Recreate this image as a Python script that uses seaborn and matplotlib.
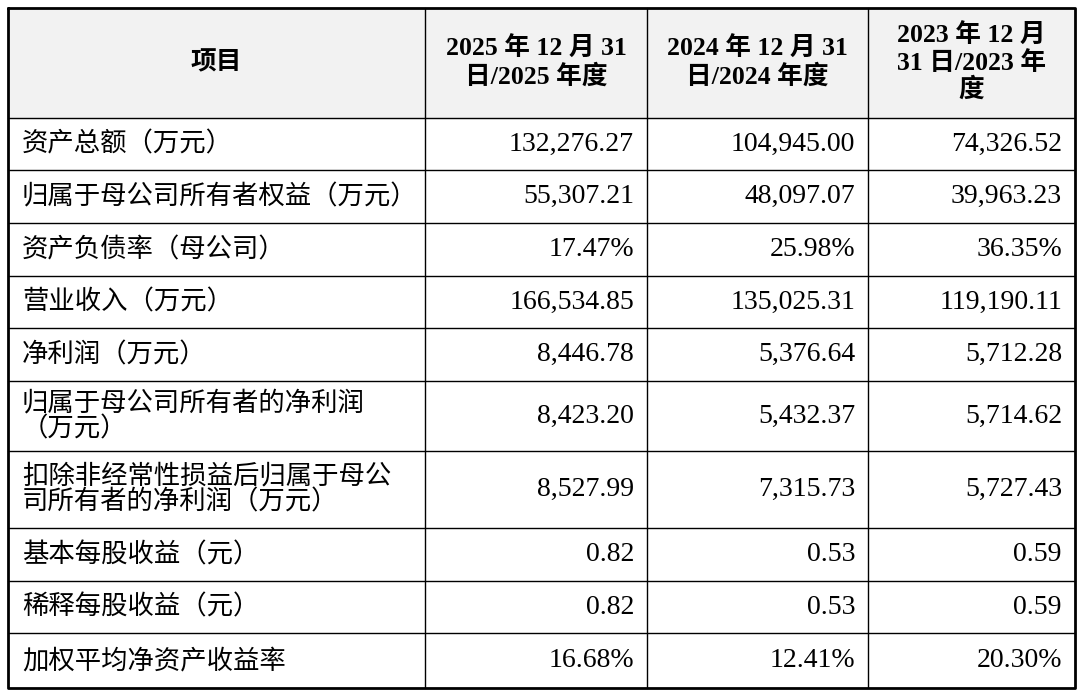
import matplotlib.pyplot as plt
import seaborn as sns

# table content
header = ["项目", "2025 年 12 月 31\n日/2025 年度", "2024 年 12 月 31\n日/2024 年度", "2023 年 12 月\n31 日/2023 年\n度"]
items = [
    "资产总额（万元）",
    "归属于母公司所有者权益（万元）",
    "资产负债率（母公司）",
    "营业收入（万元）",
    "净利润（万元）",
    "归属于母公司所有者的净利润\n（万元）",
    "扣除非经常性损益后归属于母公\n司所有者的净利润（万元）",
    "基本每股收益（元）",
    "稀释每股收益（元）",
    "加权平均净资产收益率",
]
v2025 = ["132,276.27", "55,307.21", "17.47%", "166,534.85", "8,446.78",
         "8,423.20", "8,527.99", "0.82", "0.82", "16.68%"]
v2024 = ["104,945.00", "48,097.07", "25.98%", "135,025.31", "5,376.64",
         "5,432.37", "7,315.73", "0.53", "0.53", "12.41%"]
v2023 = ["74,326.52", "39,963.23", "36.35%", "119,190.11", "5,712.28",
         "5,714.62", "5,727.43", "0.59", "0.59", "20.30%"]

# grid in pixels
col_edges = [8, 425, 647, 868, 1075]
row_edges = [8, 118, 170, 223, 276, 328, 381, 451, 528, 581, 633, 688]

sns.set_theme(style="white")
fonts = ["Liberation Serif", "Noto Sans CJK SC", "DejaVu Sans"]
plt.rcParams["font.family"] = fonts

fig = plt.figure(figsize=(10.8, 6.98), dpi=100)
ax = fig.add_axes([0, 0, 1, 1])
ax.set_xlim(0, 1080)
ax.set_ylim(698, 0)
ax.axis("off")

# header background
ax.fill_between([col_edges[0], col_edges[-1]], row_edges[0], row_edges[1], color="#f2f2f2", zorder=0)

for y in row_edges[1:-1]:
    ax.plot([col_edges[0], col_edges[-1]], [y, y], color="black", lw=1.0)
for x in col_edges[1:-1]:
    ax.plot([x, x], [row_edges[0], row_edges[-1]], color="black", lw=1.0)
ax.plot([col_edges[0], col_edges[-1], col_edges[-1], col_edges[0], col_edges[0]],
        [row_edges[0], row_edges[0], row_edges[-1], row_edges[-1], row_edges[0]],
        color="black", lw=2.0)

fs = 19
# header
for i, h in enumerate(header):
    cx = (col_edges[i] + col_edges[i + 1]) / 2
    cy = (row_edges[0] + row_edges[1]) / 2
    ax.text(cx, cy, h, ha="center", va="center", fontsize=fs - 0.5, fontweight="bold",
            linespacing=1.15, color="black")

# body
for r, (name, a, b, c) in enumerate(zip(items, v2025, v2024, v2023)):
    cy = (row_edges[r + 1] + row_edges[r + 2]) / 2
    ax.text(col_edges[0] + 14, cy, name, ha="left", va="center", fontsize=fs,
            linespacing=1.05, color="black")
    for j, v in enumerate([a, b, c]):
        ax.text(col_edges[j + 2] - 13, cy, v, ha="right", va="center",
                fontsize=fs + 1, color="black")

fig.savefig("out.png", dpi=100, facecolor="white")
